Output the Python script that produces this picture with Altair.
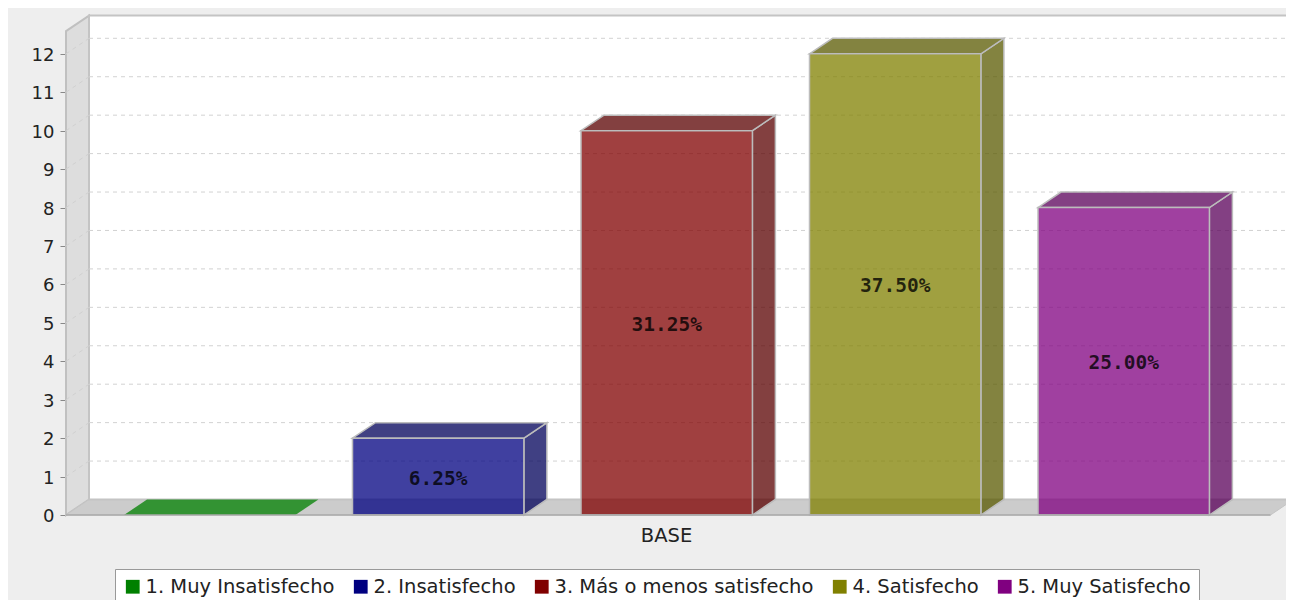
import altair as alt
import pandas as pd

series = ["1. Muy Insatisfecho", "2. Insatisfecho", "3. Más o menos satisfecho", "4. Satisfecho", "5. Muy Satisfecho"]
values = [0, 2, 10, 12, 8]
percent = ["", "6.25%", "31.25%", "37.50%", "25.00%"]
colors = ["#008000", "#000080", "#800000", "#808000", "#800080"]
dark = ["#008000", "#000059", "#590000", "#595900", "#590059"]
ticks = list(range(0, 13))
category = "BASE"

FONT = "DejaVu Sans"
EDGE = "#bcbcbc"
BAR_W = 0.7500
DX = 0.1007
DY = 0.4036
X_MIN, X_MAX = -0.2538, 5.1182
X_VIEW = 5.0853
Y_MAX = 13.01
WALL_TOP = 12.59
CENTER = 2.372

x_scale = alt.Scale(domain=[X_MIN, X_VIEW], nice=False, zero=False)
y_scale = alt.Scale(domain=[0, Y_MAX], nice=False, zero=False)

x_axis = alt.Axis(values=[CENTER], labelExpr=f"'{category}'", tickSize=0, domain=False, grid=False,
                  labelFontSize=19.5, labelFont=FONT, labelColor="#222222", labelPadding=11)
y_axis = alt.Axis(values=ticks, format="d", tickSize=6, tickColor="#888888", domain=False, grid=False,
                  labelFontSize=18, labelFont=FONT, labelColor="#222222", labelPadding=6, labelOffset=1.5)

front, tops, sides = [], [], []
for i, (s, v, p, c, d) in enumerate(zip(series, values, percent, colors, dark)):
    x0, x1 = float(i), i + BAR_W
    edge = EDGE if v > 0 else "transparent"
    front.append(dict(series=s, x=x0, x2=x1, y=v, y2=0, edge=edge, cx=(x0 + x1) / 2, mid=v / 2, label=p))
    tops += [
        dict(series=s, x=x0, y=v, y2=v, fill=d, edge=edge),
        dict(series=s, x=x0 + DX, y=v + DY, y2=v, fill=d, edge=edge),
        dict(series=s, x=x1, y=v + DY, y2=v, fill=d, edge=edge),
        dict(series=s, x=x1 + DX, y=v + DY, y2=v + DY, fill=d, edge=edge),
    ]
    if v > 0:
        sides += [
            dict(series=s, x=x1, y=v, y2=0, fill=d, edge=edge),
            dict(series=s, x=x1 + DX, y=v + DY, y2=DY, fill=d, edge=edge),
        ]
front, tops, sides = pd.DataFrame(front), pd.DataFrame(tops), pd.DataFrame(sides)

X = alt.X("x:Q", scale=x_scale, title=None, axis=x_axis)
Y = alt.Y("y:Q", scale=y_scale, title=None, axis=y_axis)

# left wall
wall = pd.DataFrame([dict(x=X_MIN, y=WALL_TOP, y2=0), dict(x=X_MIN + DX, y=WALL_TOP + DY, y2=DY)])
wall_l = alt.Chart(wall).mark_area(fill="#dddddd", stroke="#c0c0c0", strokeWidth=2).encode(x=X, y=Y, y2="y2:Q")

# floor
floor = pd.DataFrame([
    dict(x=X_MIN, y=0, y2=0),
    dict(x=X_MIN + DX, y=DY, y2=0),
    dict(x=X_MAX - DX, y=DY, y2=0),
    dict(x=X_MAX, y=DY, y2=DY),
])
floor_l = alt.Chart(floor).mark_area(fill="#cccccc", stroke="#c4c4c4", strokeWidth=1).encode(x=X, y=Y, y2="y2:Q")

# back wall
back = pd.DataFrame([dict(x=X_MIN + DX, x2=X_MAX, y=DY, y2=Y_MAX - 0.01)])
back_l = alt.Chart(back).mark_rect(fill="#ffffff", stroke="#c4c4c4", strokeWidth=2).encode(
    x=X, x2="x2:Q", y=Y, y2="y2:Q")

# gridlines
grid = pd.DataFrame([dict(x=X_MIN + DX, x2=X_MAX, y=t + DY) for t in ticks[1:]])
grid_l = alt.Chart(grid).mark_rule(color="#d2d2d2", strokeDash=[4, 4], strokeWidth=1).encode(x=X, x2="x2:Q", y=Y)
diag = pd.DataFrame([r for t in ticks[1:] for r in (dict(t=t, x=X_MIN, y=t), dict(t=t, x=X_MIN + DX, y=t + DY))])
diag_l = alt.Chart(diag).mark_line(color="#d0d0d0", strokeDash=[4, 4], strokeWidth=1).encode(x=X, y=Y, detail="t:N")

# bars
side_l = alt.Chart(sides).mark_area(fillOpacity=0.75, strokeWidth=1.5).encode(
    x=X, y=Y, y2="y2:Q",
    fill=alt.Fill("fill:N", scale=None), stroke=alt.Stroke("edge:N", scale=None), detail="series:N")
top_l = alt.Chart(tops).mark_area(fillOpacity=0.75, strokeWidth=1.5).encode(
    x=X, y=Y, y2="y2:Q",
    fill=alt.Fill("fill:N", scale=None), stroke=alt.Stroke("edge:N", scale=None), detail="series:N")
front_l = alt.Chart(front).mark_rect(fillOpacity=0.75, strokeWidth=1.5).encode(
    x=X, x2="x2:Q", y=Y, y2="y2:Q",
    stroke=alt.Stroke("edge:N", scale=None),
    fill=alt.Fill("series:N", scale=alt.Scale(domain=series, range=colors), legend=alt.Legend(
        title=None, orient="none", legendX=49, legendY=554, direction="horizontal", columns=5,
        gridAlign="none", columnPadding=16, symbolType="square", symbolSize=190, symbolOpacity=1,
        symbolStrokeWidth=0, labelFont=FONT, labelFontSize=19.5, labelColor="#222222", labelOffset=3,
        labelLimit=400, padding=8, fillColor="#ffffff", strokeColor="#999999", symbolOffset=0)),
)

# front axis line
base = pd.DataFrame([dict(x=X_MIN, x2=X_MAX - DX, y=0)])
base_l = alt.Chart(base).mark_rule(color="#aaaaaa", strokeWidth=1.5).encode(x=X, x2="x2:Q", y=Y)

# percentage labels
text_l = alt.Chart(front[front.label != ""]).mark_text(
    font="DejaVu Sans Mono", fontWeight="bold", fontSize=19.5, fill="#000000", fillOpacity=0.78, dy=2
).encode(x=alt.X("cx:Q", scale=x_scale, title=None, axis=x_axis),
         y=alt.Y("mid:Q", scale=y_scale, title=None, axis=y_axis), text="label:N")

chart = alt.layer(wall_l, floor_l, back_l, diag_l, grid_l, side_l, top_l, front_l, base_l, text_l).properties(
    width=1220, height=500,
    padding={"left": 58, "top": 7, "right": 0, "bottom": 85},
    autosize=alt.AutoSizeParams(type="none"),
    background="#eeeeee",
).configure_view(stroke=None)

chart.save("out.html", embed_options={"renderer": "svg", "actions": False})
